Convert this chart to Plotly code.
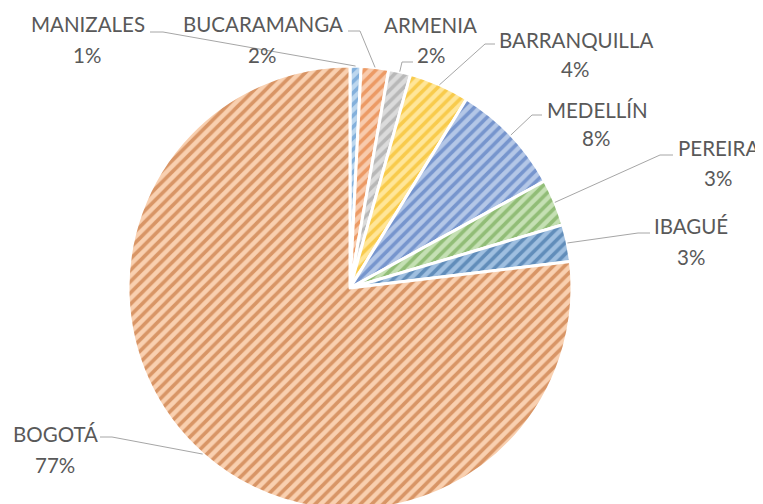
import math
import plotly.graph_objects as go

# ---- data ----
cities = ["MANIZALES", "BUCARAMANGA", "ARMENIA", "BARRANQUILLA",
          "MEDELLÍN", "PEREIRA", "IBAGUÉ", "BOGOTÁ"]
shares = [0.8, 2.0, 1.6, 4.4, 8.2, 3.4, 2.7, 76.9]

# ---- style ----
fg_colors = ["#4A8AC9", "#E06A1E", "#969696", "#F2B000",
             "#3A64B4", "#5E9A3A", "#245C94", "#B85A1C"]
bg_colors = ["#BDD7EE", "#F8CBAD", "#DBDBDB", "#FFE699",
             "#B4C7E7", "#C5E0B4", "#9FBFE0", "#F9D0B0"]

OFF = 8                       # page body margin
W, H = 763, 512               # figure size
CX, CY, R = 350, 288, 222     # pie geometry in screen pixels
TXT = "#595959"
FONT = "Lato"
FS = 20.5

# label layout (screen pixels): name centre, pct centre, leader start, elbow
label_pos = {
    "MANIZALES":    ((88, 24), (87, 55), (150, 32), (163, 32)),
    "BUCARAMANGA":  ((263, 24), (262, 55), (348, 31), (360, 31)),
    "ARMENIA":      ((430, 25), (431, 55), (413, 62), (402, 62)),
    "BARRANQUILLA": ((576, 40), (575, 69), (495, 44), (485, 44)),
    "MEDELLÍN":     ((597, 110), (596, 138), (542, 115), (532, 115)),
    "PEREIRA":      ((718, 148), (718, 178), (673, 155), (660, 155)),
    "IBAGUÉ":       ((691, 226), (691, 257), (650, 233), (638, 233)),
    "BOGOTÁ":       ((55, 434), (55, 465), (100, 437), (112, 437)),
}


def px(x, y):
    return (x - OFF) / W, 1 - (y - OFF) / H


x0, y0 = px(CX - R, CY - R)
x1, y1 = px(CX + R, CY + R)

fig = go.Figure(go.Pie(
    labels=cities, values=shares, sort=False, direction="clockwise",
    rotation=0, textinfo="none", hoverinfo="label+percent",
    domain=dict(x=[x0, x1], y=[y1, y0]),
    marker=dict(colors=bg_colors,
                line=dict(color="white", width=3),
                pattern=dict(shape="/", fgcolor=fg_colors, bgcolor=bg_colors,
                             size=8, solidity=0.45, fillmode="overlay")),
    showlegend=False,
))

total = sum(shares)
annotations = []
shapes = []
cum = 0.0
for city, v in zip(cities, shares):
    mid = (cum + v / 2) / total * 2 * math.pi
    cum += v
    ex = CX + R * math.sin(mid)
    ey = CY - R * math.cos(mid)
    (nx, ny), (qx, qy), (sx, sy), (bx, by) = label_pos[city]
    pct = round(v / total * 100)
    for (tx, ty, t) in ((nx, ny, city), (qx, qy, f"{pct}%")):
        X, Y = px(tx, ty)
        annotations.append(dict(x=X, y=Y, xref="paper", yref="paper", text=t,
                                showarrow=False, xanchor="center", yanchor="middle",
                                font=dict(family=FONT, size=FS, color=TXT)))
    pts = [px(sx, sy), px(bx, by), px(ex, ey)]
    path = "M {} {} L {} {} L {} {}".format(*[c for p in pts for c in p])
    shapes.append(dict(type="path", path=path, xref="paper", yref="paper",
                       line=dict(color="#A6A6A6", width=1)))

fig.update_layout(width=W, height=H, margin=dict(l=0, r=0, t=0, b=0),
                  paper_bgcolor="white", plot_bgcolor="white",
                  annotations=annotations, shapes=shapes)
fig.write_html("out.html")
